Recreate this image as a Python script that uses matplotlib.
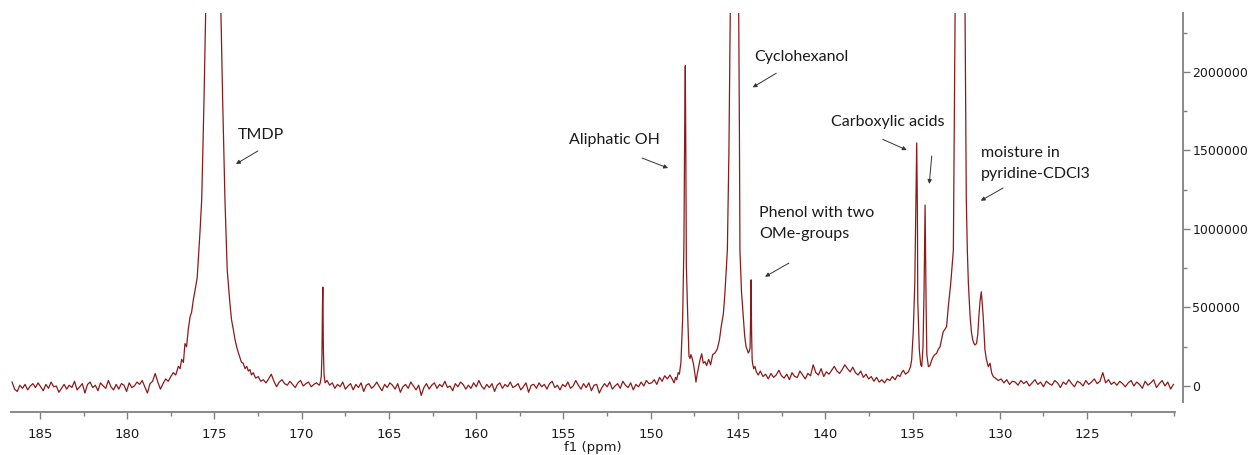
import numpy as np
import matplotlib
matplotlib.use("Agg")
import matplotlib.pyplot as plt
from matplotlib.ticker import MultipleLocator, FuncFormatter

# ---- 31P NMR trace, intensities in thousands of counts ----
# baseline 186.6 -> 177.5 ppm (evenly sampled)
base_a_range = (186.6, 177.5)
base_a_k = [25, -20, -35, 5, -15, 10, -25, 0, 15, -10,
            20, -5, -30, 10, -15, 25, -5, 0, -40, -15,
            10, -20, 5, -10, 30, -25, -5, 15, -45, 10,
            25, -10, 5, -30, 20, 0, -15, 35, -5, -25,
            10, -20, 15, 5, -35, 20, -10, 0, 25, 10,
            35, -5, -45, 15, 30, 80, 25, -20, 15, 45,
            30, 60]

# TMDP reagent peak
tmdp_ppm = [177.36, 177.22, 177.07, 176.97, 176.88, 176.78, 176.69, 176.60, 176.50, 176.40,
            176.31, 176.21, 176.08, 175.99, 175.93, 175.83, 175.73, 175.60, 175.50, 175.37,
            175.20, 175.06, 174.91, 174.76, 174.63, 174.53, 174.40, 174.27, 174.11, 174.02,
            173.92, 173.83, 173.73, 173.64, 173.54, 173.45, 173.35, 173.25, 173.15, 173.06,
            172.97, 172.88, 172.78, 172.64, 172.49, 172.35, 172.20]
tmdp_k = [85, 70, 125, 110, 170, 150, 270, 250, 360, 440,
          470, 550, 630, 690, 800, 980, 1190, 1820, 2375, 3500,
          6000, 9000, 6000, 3500, 2375, 1820, 1190, 740, 520, 420,
          360, 300, 250, 215, 180, 150, 145, 110, 125, 95,
          105, 70, 85, 50, 60, 30, 40]

# baseline 172.05 -> 169.0 ppm
base_b_range = (172.05, 169.0)
base_b_k = [20, 45, 75, 30, -5, 25, 40, 15, 5, 30,
            10, -10, 20, 35, 0, 15, 25, -5, 10, 20, 5]

# sharp signal at 168.8 ppm
p169_ppm = [168.95, 168.88, 168.84, 168.81, 168.79, 168.76, 168.72, 168.66]
p169_k = [15, 60, 200, 520, 630, 240, 70, 20]

# baseline 168.55 -> 148.75 ppm
base_c_range = (168.55, 148.75)
base_c_k = [35, 5, 20, -15, 10, -5, 25, -20, 0, 15,
            -25, 10, -10, 20, -35, 5, 15, -15, 0, 25,
            -5, -30, 10, -10, 20, 5, -20, 15, -40, -5,
            10, -15, 25, 0, -25, 5, -60, -10, 15, -20,
            5, 20, -15, 10, -5, 30, -10, 0, -30, 15,
            -5, 25, 10, -20, 5, -15, 20, -5, 35, 0,
            -20, 10, -10, 15, -35, 5, 20, -15, 10, -5,
            25, -10, 0, 15, -25, -5, 20, -40, 5, 10,
            -15, 20, -5, 10, -20, 15, 30, -10, 5, -25,
            10, -5, 25, -15, 0, 35, 5, -20, 15, -10,
            20, -30, 5, 10, -45, -10, 15, -5, 25, -20,
            0, 15, -15, 30, 5, -10, 20, -25, 10, -5,
            25, 0, 35, 15, 20, 40, 10, 55, 30, 65,
            45, 70, 40]

# aliphatic OH, cyclohexanol (internal standard) and syringyl phenol
ali_ppm = [148.66, 148.58, 148.51, 148.43, 148.36, 148.27, 148.17, 148.10, 148.05, 148.02,
           147.99, 147.96, 147.88, 147.81, 147.75, 147.70, 147.65, 147.56, 147.46, 147.41,
           147.33, 147.25, 147.18, 147.08, 146.99, 146.89, 146.80, 146.68, 146.57, 146.45,
           146.32, 146.19, 146.07, 145.96, 145.84, 145.75, 145.65, 145.61, 145.52, 145.44,
           145.34, 145.20, 145.06, 144.96, 144.92, 144.89, 144.80, 144.70, 144.62, 144.54,
           144.47, 144.41, 144.36, 144.31, 144.28, 144.25, 144.22, 144.19, 144.16, 144.10,
           144.03, 143.95, 143.84]
ali_k = [20, 55, 40, 85, 75, 150, 440, 900, 1700, 2040,
         1500, 760, 440, 190, 175, 200, 185, 145, 70, 25,
         80, 125, 165, 205, 145, 155, 130, 170, 135, 200,
         210, 235, 290, 380, 460, 590, 780, 866, 1500, 2375,
         5000, 10000, 5000, 2375, 1630, 866, 600, 441, 320, 250,
         230, 210, 220, 240, 420, 676, 330, 170, 140, 110,
         125, 90, 70]

# baseline 143.72 -> 135.85 ppm
base_d_range = (143.72, 135.85)
base_d_k = [95, 60, 75, 45, 80, 55, 70, 100, 65, 50,
            75, 40, 85, 60, 55, 95, 70, 45, 80, 65,
            135, 85, 70, 110, 60, 90, 75, 100, 125, 95,
            80, 105, 135, 110, 90, 120, 85, 70, 95, 55,
            75, 45, 60, 30, 55, 25, 40, 20, 45, 35,
            60, 40, 70]

# carboxylic acids and water in pyridine-CDCl3
carb_ppm = [135.72, 135.62, 135.53, 135.40, 135.24, 135.12, 135.05, 134.96, 134.87, 134.80,
            134.76, 134.72, 134.70, 134.61, 134.53, 134.47, 134.40, 134.34, 134.30, 134.28,
            134.25, 134.22, 134.18, 134.09, 134.00, 133.90, 133.81, 133.72, 133.62, 133.52,
            133.42, 133.33, 133.24, 133.15, 133.05, 132.95, 132.81, 132.66, 132.56, 132.41,
            132.28, 132.13, 131.99, 131.92, 131.86, 131.80, 131.70, 131.62, 131.55, 131.48,
            131.42, 131.33, 131.26, 131.20, 131.13, 131.06, 131.00, 130.95, 130.85, 130.76,
            130.66, 130.56, 130.46, 130.37]
carb_k = [60, 85, 100, 75, 90, 120, 166, 340, 654, 1200,
          1548, 1100, 548, 229, 134, 125, 250, 600, 1000, 1153,
          800, 500, 200, 123, 130, 165, 187, 200, 208, 235,
          250, 300, 346, 360, 378, 505, 654, 866, 2375, 5000,
          10000, 5000, 2375, 1200, 866, 654, 441, 340, 293, 270,
          261, 272, 330, 441, 540, 600, 520, 441, 229, 166,
          123, 145, 81, 59]

# baseline 130.25 -> 120.05 ppm
base_e_range = (130.25, 120.05)
base_e_k = [50, 35, 45, 20, 40, 10, 30, 25, 5, 35,
            15, 30, 0, 20, 40, 10, 25, -5, 30, 15,
            5, 35, 20, -10, 25, 10, 40, 15, -5, 30,
            20, 0, 35, 10, 25, 45, 15, 30, 85, 20,
            40, 10, 25, 5, 30, 15, -5, 20, 35, 0,
            25, 10, -15, 30, 5, 20, 40, -10, 15, 35,
            0, 25, -20, 10]

x_major_ticks = [185, 180, 175, 170, 165, 160, 155, 150, 145, 140, 135, 130, 125]
y_major_ticks = [0, 500000, 1000000, 1500000, 2000000]


def sampled(rng, values):
    return np.linspace(rng[0], rng[1], len(values)), np.asarray(values, float)


pieces = [
    sampled(base_a_range, base_a_k),
    (np.asarray(tmdp_ppm), np.asarray(tmdp_k, float)),
    sampled(base_b_range, base_b_k),
    (np.asarray(p169_ppm), np.asarray(p169_k, float)),
    sampled(base_c_range, base_c_k),
    (np.asarray(ali_ppm), np.asarray(ali_k, float)),
    sampled(base_d_range, base_d_k),
    (np.asarray(carb_ppm), np.asarray(carb_k, float)),
    sampled(base_e_range, base_e_k),
]
ppm = np.concatenate([p[0] for p in pieces])
intensity = np.concatenate([p[1] for p in pieces]) * 1000.0

fig = plt.figure(figsize=(12.48, 4.55), dpi=100)
ax = fig.add_axes([0.0088, 0.0952, 0.9327, 0.8762])

ax.plot(ppm, intensity, color="#8b1a1a", lw=0.9)

ax.set_xlim(186.66, 119.96)
ax.set_ylim(-163700, 2375600)

spine_col = "#808080"
for side in ("top", "left"):
    ax.spines[side].set_visible(False)
for side in ("bottom", "right"):
    ax.spines[side].set_color(spine_col)
    ax.spines[side].set_linewidth(1.3)
ax.spines["right"].set_position(("outward", 6))
ax.spines["right"].set_bounds(-100000, 2375600)

ax.yaxis.tick_right()
ax.set_xticks(x_major_ticks)
ax.xaxis.set_minor_locator(MultipleLocator(2.5))
ax.set_yticks(y_major_ticks)
ax.yaxis.set_minor_locator(MultipleLocator(250000))
ax.yaxis.set_major_formatter(FuncFormatter(lambda v, p: f"{int(v)}"))
ax.tick_params(axis="both", which="major", length=5, width=1.0, color=spine_col,
               labelcolor="#1a1a1a")
ax.tick_params(axis="x", which="major", labelsize=9.5, pad=6.5)
ax.tick_params(axis="y", which="major", labelsize=9.0, pad=1.5)
ax.tick_params(axis="both", which="minor", length=3, width=1.0, color=spine_col)
ax.tick_params(axis="y", which="both", left=False, right=True)
ax.set_xlabel("f1 (ppm)", fontsize=9.5, color="#1a1a1a", labelpad=0)

note_font = dict(family="Lato", fontsize=11.5, color="#1a1a1a")
arrow = dict(arrowstyle="-|>", lw=0.7, color="#333333", mutation_scale=6,
             shrinkA=0, shrinkB=0)

ax.text(173.65, 1598000, "TMDP", ha="left", va="center", **note_font)
ax.annotate("", xy=(173.77, 1414000), xytext=(172.51, 1497000), arrowprops=arrow)

ax.text(154.68, 1567000, "Aliphatic OH", ha="left", va="center", **note_font)
ax.annotate("", xy=(149.01, 1388000), xytext=(150.50, 1452000), arrowprops=arrow)

ax.text(144.07, 2093000, "Cyclohexanol", ha="left", va="center", **note_font)
ax.annotate("", xy=(144.16, 1902000), xytext=(142.81, 1992000), arrowprops=arrow)

ax.text(143.80, 1036000, "Phenol with two\nOMe-groups", ha="left", va="center",
        linespacing=1.65, **note_font)
ax.annotate("", xy=(143.45, 696000), xytext=(142.08, 783000), arrowprops=arrow)

ax.text(139.69, 1683000, "Carboxylic acids", ha="left", va="center", **note_font)
ax.annotate("", xy=(135.33, 1503000), xytext=(136.71, 1571000), arrowprops=arrow)
ax.annotate("", xy=(134.04, 1287000), xytext=(133.90, 1465000), arrowprops=arrow)

ax.text(131.07, 1418000, "moisture in\npyridine-CDCl3", ha="left", va="center",
        linespacing=1.65, **note_font)
ax.annotate("", xy=(131.09, 1180000), xytext=(129.81, 1261000), arrowprops=arrow)

fig.savefig("out.png", dpi=100, facecolor="white")
